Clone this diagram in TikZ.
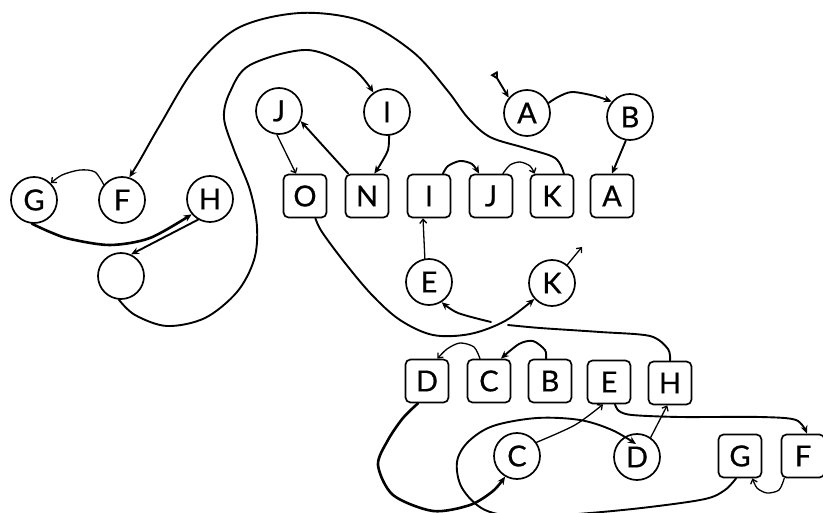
\documentclass[tikz,border=0pt]{standalone}
\usepackage{fontspec}
\setmainfont{Lato}
\newfontfamily\lblfont{Lato}[FakeBold=0.6]
\usetikzlibrary{arrows.meta,calc}

\begin{document}
\begin{tikzpicture}[x=1pt,y=-1pt,
  line cap=round, line join=round,
  lbl/.style={font=\lblfont\fontsize{29}{29}\selectfont, inner sep=0pt},
  circ/.style={lbl, circle, draw, line width=1.7pt, minimum size=46pt},
  sq/.style={lbl, rectangle, rounded corners=5pt, draw, line width=1.7pt, minimum size=43pt},
  link/.style={line width=1.9pt, -{Stealth[length=8pt,width=7pt]}},
  heavy/.style={link, line width=2.6pt},
  thinlink/.style={line width=1.3pt, -{Straight Barb[length=4pt,width=7pt]}},
]
\useasboundingbox (0,0) rectangle (823,513);

% circles
\node[circ] (cG) at (34,200) {G};
\node[circ] (cF) at (122,200) {F};
\node[circ] (cH) at (210,199) {H};
\node[circ] (cX) at (121,276) {};
\node[circ] (cJ) at (279,111) {J};
\node[circ] (cI) at (387,112) {I};
\node[circ] (cA) at (527,113) {A};
\node[circ] (cB) at (630,117) {B};
\node[circ] (cE) at (429,282) {E};
\node[circ] (cK) at (552,283) {K};
\node[circ] (cC) at (517,456) {C};
\node[circ] (cD) at (637,457) {D};

% boxes, upper row
\node[sq] (bO) at (305,196) {O};
\node[sq] (bN) at (367,196) {N};
\node[sq] (bI) at (429,196) {I};
\node[sq] (bJ) at (491,196) {J};
\node[sq] (bK) at (552,196) {K};
\node[sq] (bA) at (612,196) {A};
% boxes, lower row
\node[sq] (bD) at (427,381) {D};
\node[sq] (bC) at (489,381) {C};
\node[sq] (bB) at (550,381) {B};
\node[sq] (bE) at (609,382) {E};
\node[sq] (bH) at (670,383) {H};
\node[sq] (bG) at (740,456) {G};
\node[sq] (bF) at (803,456) {F};

% free ends
\coordinate (tA) at (494,73);
\coordinate (tK) at (582,247);
\coordinate (xR) at (508,325);
\coordinate (xL) at (491,322);

% outer arch K -> F
\draw[link] plot[smooth,tension=0.55] coordinates {(bK.62) (555,158) (525,148) (490,137) (468,118) (447,90) (413,52) (362,21) (300,13) (238,28) (195,68) (160,125) (140,160) (cF.72)};
% loop from the empty circle to I
\draw[link] plot[smooth,tension=0.55] coordinates {(cX.-95) (135,315) (167,326) (205,318) (237,292) (254,260) (257,227) (250,190) (234,150) (224,118) (230,92) (250,65) (307,50) (352,68) (cI.125)};
% left group
\draw[thinlink] plot[smooth] coordinates {(cF.140) (95,172) (80,170) (62,175) (cG.45)};
\draw[heavy] plot[smooth] coordinates {(cG.-95) (50,232) (70,239) (110,245) (150,238) (cH.220)};
\draw[link] (cH.240) -- (cX.65);
% upper row links
\draw[thinlink] (cJ.-95) -- (bO.112);
\draw[link] (bN.130) -- (cJ.-25);
\draw[link] plot[smooth] coordinates {(cI.-85) (388,150) (380,165) (bN.72)};
\draw[link] plot[smooth] coordinates {(bI.58) (448,166) (460,161) (472,164) (bJ.118)};
\draw[thinlink] plot[smooth] coordinates {(bJ.62) (510,165) (520,162) (530,166) (bK.128)};
\draw[link] plot[smooth] coordinates {(cA.25) (558,97) (572,92) (595,96) (cB.140)};
\draw[link] (cB.-100) -- (bA.90);
\draw[line width=1.9pt, {Triangle[open,reversed,length=8pt,width=8pt]}-{Stealth[length=8pt,width=7pt]}] (tA) -- (cA.140);
% middle
\draw[thinlink] (cE.100) -- (bI.-105);
\draw[thinlink] (cK.50) -- (tK);
\draw[line width=1.9pt] plot[smooth] coordinates {(bH.90) (668,349) (650,336) (600,332) (540,328) (xR)};
\draw[link] plot[smooth] coordinates {(xL) (458,313) (cE.-58)};
\draw[link] plot[smooth,tension=0.55] coordinates {(bO.-65) (322,232) (345,263) (372,295) (400,320) (433,335) (470,334) (505,321) (cK.222)};
% lower row links
\draw[thinlink] plot[smooth] coordinates {(bC.112) (474,347) (460,343) (447,349) (bD.65)};
\draw[link] plot[smooth] coordinates {(bB.100) (545,350) (533,341) (519,344) (bC.62)};
\draw[heavy] plot[smooth] coordinates {(bD.-112) (403,418) (388,440) (378,465) (393,495) (433,511) (470,505) (493,491) (cC.240)};
\draw[thinlink] plot[smooth] coordinates {(cC.35) (575,425) (bE.-105)};
\draw[link] plot[smooth,tension=0.55] coordinates {(bG.-100) (725,490) (705,499) (650,507) (590,513) (525,517) (485,510) (462,488) (457,462) (468,442) (493,426) (537,418) (580,420) (612,430) ($(cD.center)+(-1,-13)$)};
\draw[thinlink] (cD.55) -- (bH.-97);
\draw[link] plot[smooth] coordinates {(bE.-75) (619,411) (632,415) (680,417) (760,417) (796,420) (bF.80)};
\draw[thinlink] plot[smooth] coordinates {(bF.-130) (779,490) (767,493) (757,488) (bG.-61)};
\end{tikzpicture}
\end{document}
